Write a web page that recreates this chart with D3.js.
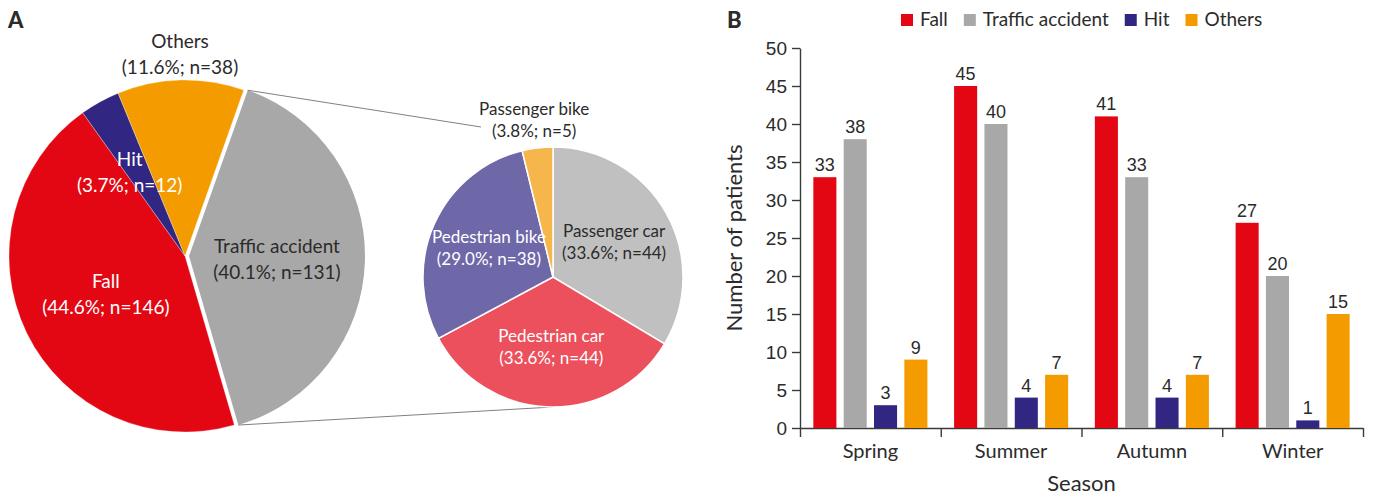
<!DOCTYPE html>
<html>
<head>
<meta charset="utf-8">
<script src="https://cdn.jsdelivr.net/npm/d3@7"></script>
<style>
  body { margin: 0; background: #fff; }
  svg text { font-family: Lato, "Noto Sans", sans-serif; fill: #2b2b2b; }
  .num { font-family: "Liberation Sans", Arial, sans-serif; }
  .axis path, .axis line { stroke: #3a3a3a; stroke-width: 1.4; }
</style>
</head>
<body>
<div id="chart"></div>
<script>
// ---- data ----
const causes = ["Fall", "Traffic accident", "Hit", "Others"];
const causeCounts = [146, 131, 12, 38];
const causePct = ["44.6%", "40.1%", "3.7%", "11.6%"];

const trafficTypes = ["Passenger car", "Pedestrian car", "Pedestrian bike", "Passenger bike"];
const trafficCounts = [44, 44, 38, 5];
const trafficPct = ["33.6%", "33.6%", "29.0%", "3.8%"];

const seasons = ["Spring", "Summer", "Autumn", "Winter"];
const fallBySeason = [33, 45, 41, 27];
const trafficBySeason = [38, 40, 33, 20];
const hitBySeason = [3, 4, 4, 1];
const othersBySeason = [9, 7, 7, 15];
const yTicks = [0, 5, 10, 15, 20, 25, 30, 35, 40, 45, 50];

// ---- canvas ----
const W = 1373, H = 499;
const svg = d3.select("#chart").append("svg")
    .attr("width", W)
    .attr("height", H);

const causeColor = d3.scaleOrdinal()
    .domain(causes)
    .range(["#e30613", "#a8a8a8", "#312783", "#f49b00"]);
const trafficColor = d3.scaleOrdinal()
    .domain(trafficTypes)
    .range(["#c0c0c0", "#eb505c", "#6e67a8", "#f7b64c"]);

// panel letters
svg.append("text").attr("x", 8).attr("y", 28)
    .style("font-weight", 900).style("font-size", "22px").text("A");
svg.append("text").attr("x", 727).attr("y", 28)
    .style("font-weight", 900).style("font-size", "22px").text("B");

//-----------------------------------------------------------
// panel A: main pie + breakdown of traffic accidents
function drawPies() {
    const R = 176, cx = 185, cy = 256;
    const deg = Math.PI / 180;
    const pieOrder = ["Traffic accident", "Fall", "Hit", "Others"];
    const bigData = pieOrder.map(c => {
        const i = causes.indexOf(c);
        return {name: c, n: causeCounts[i], pct: causePct[i]};
    });

    const bigPie = d3.pie().sort(null).value(d => d.n)
        .startAngle(19.5 * deg).endAngle(19.5 * deg + 2 * Math.PI);
    const bigArc = d3.arc().innerRadius(0).outerRadius(R);
    const explode = 4;

    const gBig = svg.append("g").attr("transform", `translate(${cx},${cy})`);
    const arcs = bigPie(bigData);

    const shift = d => {
        if (d.data.name !== "Traffic accident") return [0, 0];
        const a = (d.startAngle + d.endAngle) / 2;
        return [explode * Math.sin(a), -explode * Math.cos(a)];
    };

    gBig.selectAll("path")
        .data(arcs)
        .join("path")
          .attr("d", bigArc)
          .attr("transform", d => `translate(${shift(d)})`)
          .attr("fill", d => causeColor(d.data.name))
          .attr("stroke", d => d.data.name === "Traffic accident" ? "none" : "#ffffff")
          .attr("stroke-width", 0.3);

    // label radii / angle nudges by slice
    const labelR = {"Fall": 0.5 * R, "Traffic accident": 0.5 * R, "Hit": 0.57 * R, "Others": R + 26};
    const labelTurn = {"Fall": 0, "Traffic accident": 0, "Hit": -4.5 * deg, "Others": 0};
    const labelFill = {"Fall": "#ffffff", "Traffic accident": "#2b2b2b", "Hit": "#ffffff", "Others": "#2b2b2b"};
    const bigLabels = gBig.selectAll("g.lbl")
        .data(arcs)
        .join("g")
          .attr("class", "lbl")
          .attr("transform", d => {
              const a = (d.startAngle + d.endAngle) / 2 + labelTurn[d.data.name];
              const r = labelR[d.data.name];
              const s = shift(d);
              return `translate(${r * Math.sin(a) + s[0]},${-r * Math.cos(a) + s[1]})`;
          });
    bigLabels.append("text")
        .attr("text-anchor", "middle")
        .attr("y", -6)
        .style("font-size", "19px")
        .style("fill", d => labelFill[d.data.name])
        .text(d => d.data.name);
    bigLabels.append("text")
        .attr("text-anchor", "middle")
        .attr("y", 20)
        .style("font-size", "19px")
        .style("fill", d => labelFill[d.data.name])
        .text(d => `(${d.data.pct}; n=${d.data.n})`);

    // small pie
    const r2 = 130, cx2 = 553, cy2 = 277;
    const smallData = trafficTypes.map((t, i) => ({name: t, n: trafficCounts[i], pct: trafficPct[i]}));
    const smallPie = d3.pie().sort(null).value(d => d.n);
    const smallArc = d3.arc().innerRadius(0).outerRadius(r2);
    const sArcs = smallPie(smallData);

    // connector lines from exploded slice
    const ta = arcs.find(d => d.data.name === "Traffic accident");
    const s = shift(ta);
    const p1 = [cx + s[0] + R * Math.sin(ta.startAngle), cy + s[1] - R * Math.cos(ta.startAngle)];
    const p2 = [cx + s[0] + R * Math.sin(ta.endAngle), cy + s[1] - R * Math.cos(ta.endAngle)];
    svg.append("line")
        .attr("x1", p1[0]).attr("y1", p1[1])
        .attr("x2", cx2 - 72).attr("y2", cy2 - 150)
        .attr("stroke", "#808080").attr("stroke-width", 1);
    svg.append("line")
        .attr("x1", p2[0]).attr("y1", p2[1])
        .attr("x2", cx2).attr("y2", cy2 + r2)
        .attr("stroke", "#808080").attr("stroke-width", 1);

    const gSmall = svg.append("g").attr("transform", `translate(${cx2},${cy2})`);
    gSmall.selectAll("path")
        .data(sArcs)
        .join("path")
          .attr("d", smallArc)
          .attr("fill", d => trafficColor(d.data.name))
          .attr("stroke", "#ffffff")
          .attr("stroke-width", 1.5);

    const sFill = {"Passenger car": "#2b2b2b", "Pedestrian car": "#ffffff", "Pedestrian bike": "#ffffff", "Passenger bike": "#2b2b2b"};
    const sLabels = gSmall.selectAll("g.lbl")
        .data(sArcs)
        .join("g")
          .attr("class", "lbl")
          .attr("transform", d => {
              const a = (d.startAngle + d.endAngle) / 2;
              const r = d.data.name === "Passenger bike" ? r2 + 28 : 0.54 * r2;
              return `translate(${r * Math.sin(a)},${-r * Math.cos(a)})`;
          });
    sLabels.append("text")
        .attr("text-anchor", "middle")
        .attr("y", -5)
        .style("font-size", "17px")
        .style("fill", d => sFill[d.data.name])
        .text(d => d.data.name);
    sLabels.append("text")
        .attr("text-anchor", "middle")
        .attr("y", 17)
        .style("font-size", "17px")
        .style("fill", d => sFill[d.data.name])
        .text(d => `(${d.data.pct}; n=${d.data.n})`);
}

//-----------------------------------------------------------
// panel B: grouped bars by season
function drawBars() {
    const left = 800, right = 1363, top = 48, bottom = 428;
    const series = [fallBySeason, trafficBySeason, hitBySeason, othersBySeason];

    const y = d3.scaleLinear().domain([0, 50]).range([bottom, top]);
    const x0 = d3.scaleBand().domain(seasons).range([left, right]).padding(0);
    const x1 = d3.scaleBand().domain(causes).range([0, x0.bandwidth()])
        .paddingInner(0.24).paddingOuter(0.44);

    const g = svg.append("g");

    // y axis
    g.append("g")
        .attr("class", "axis num")
        .attr("transform", `translate(${left},0)`)
        .call(d3.axisLeft(y).tickValues(yTicks).tickSize(8).tickPadding(5).tickSizeOuter(0))
        .call(a => a.selectAll("text").attr("class", "num").style("font-size", "19px").style("fill", "#2b2b2b"));

    // x axis: boundary ticks
    const xb = d3.scaleLinear().domain([0, seasons.length]).range([left, right]);
    g.append("g")
        .attr("class", "axis")
        .attr("transform", `translate(0,${bottom})`)
        .call(d3.axisBottom(xb).tickValues(d3.range(seasons.length + 1)).tickSize(9).tickFormat("").tickSizeOuter(0));
    // x axis: season labels
    g.append("g")
        .attr("transform", `translate(0,${bottom})`)
        .call(d3.axisBottom(x0).tickSize(0).tickPadding(16))
        .call(a => a.select(".domain").remove())
        .call(a => a.selectAll("text").style("font-size", "20px").style("font-family", "Lato").style("fill", "#2b2b2b"));

    const groups = g.selectAll("g.season")
        .data(seasons)
        .join("g")
          .attr("class", "season")
          .attr("transform", d => `translate(${x0(d)},0)`);

    const cell = (s, si) => causes.map((c, ci) => ({cause: c, v: series[ci][si]}));

    groups.selectAll("rect")
        .data(cell)
        .join("rect")
          .attr("x", d => x1(d.cause))
          .attr("y", d => y(d.v))
          .attr("width", x1.bandwidth())
          .attr("height", d => bottom - y(d.v))
          .attr("fill", d => causeColor(d.cause));

    groups.selectAll("text.val")
        .data(cell)
        .join("text")
          .attr("class", "val num")
          .attr("x", d => x1(d.cause) + x1.bandwidth() / 2)
          .attr("y", d => y(d.v) - 6)
          .attr("text-anchor", "middle")
          .style("font-size", "18px")
          .text(d => d.v);

    // axis titles
    svg.append("text")
        .attr("transform", `translate(742,${(top + bottom) / 2}) rotate(-90)`)
        .attr("text-anchor", "middle")
        .style("font-size", "22px")
        .text("Number of patients");
    svg.append("text")
        .attr("x", (left + right) / 2)
        .attr("y", 491)
        .attr("text-anchor", "middle")
        .style("font-size", "22px")
        .text("Season");

    // legend
    let lx = 901;
    causes.forEach(c => {
        svg.append("rect").attr("x", lx).attr("y", 14).attr("width", 12).attr("height", 12)
            .attr("fill", causeColor(c));
        const t = svg.append("text").attr("x", lx + 19).attr("y", 26)
            .style("font-size", "19px").text(c);
        lx += 19 + t.node().getComputedTextLength() + 16;
    });
}

drawPies();
drawBars();
</script>
</body>
</html>
